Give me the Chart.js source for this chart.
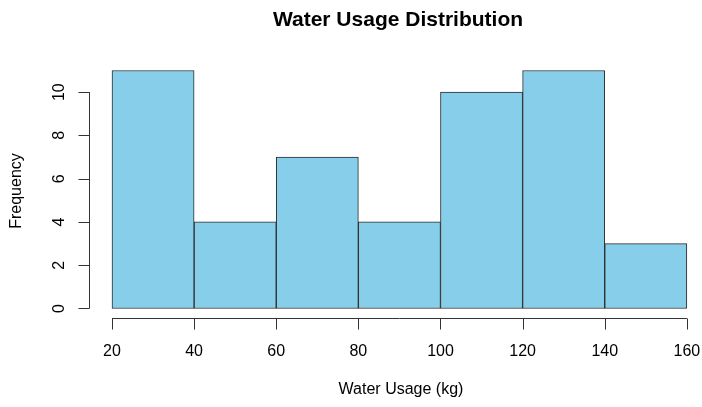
<!DOCTYPE html>
<html>
<head>
<meta charset="utf-8">
<script src="https://cdn.jsdelivr.net/npm/chart.js@4.4.1/dist/chart.umd.min.js"></script>
<style>
  html, body { margin: 0; padding: 0; background: #fff; }
  #wrap { width: 702px; height: 407px; }
</style>
</head>
<body>
<div id="wrap"><canvas id="histChart" width="702" height="407"></canvas></div>
<script>
// histogram bins (kg) and counts
const binStarts = [20, 40, 60, 80, 100, 120, 140];
const binWidth = 20;
const counts = [11, 4, 7, 4, 10, 11, 3];
const xTicks = [20, 40, 60, 80, 100, 120, 140, 160];
const yTicks = [0, 2, 4, 6, 8, 10];

const chartTitle = 'Water Usage Distribution';
const xLabel = 'Water Usage (kg)';
const yLabel = 'Frequency';

const points = binStarts.map((s, i) => ({ x: s + binWidth / 2, y: counts[i] }));

// R style axes, title and labels
const rAxes = {
    id: 'rAxes',
    afterDraw(chart) {
        const c = chart.ctx;
        const xs = chart.scales.x, ys = chart.scales.y;
        const area = chart.chartArea;
        c.save();
        c.strokeStyle = '#333';
        c.lineWidth = 1;
        c.fillStyle = '#000';

        // x axis
        const xy = Math.round(area.bottom) + 0.5;
        c.beginPath();
        c.moveTo(xs.getPixelForValue(xTicks[0]), xy);
        c.lineTo(xs.getPixelForValue(xTicks[xTicks.length - 1]), xy);
        xTicks.forEach(t => {
            const px = Math.round(xs.getPixelForValue(t)) + 0.5;
            c.moveTo(px, xy);
            c.lineTo(px, xy + 11);
        });
        c.stroke();
        c.font = '16px "Liberation Sans", Arial, sans-serif';
        c.textAlign = 'center';
        c.textBaseline = 'middle';
        xTicks.forEach(t => c.fillText(String(t), xs.getPixelForValue(t), 352));

        // y axis
        const yx = Math.round(area.left) + 0.5;
        c.beginPath();
        c.moveTo(yx, ys.getPixelForValue(yTicks[0]));
        c.lineTo(yx, ys.getPixelForValue(yTicks[yTicks.length - 1]));
        yTicks.forEach(t => {
            const py = Math.round(ys.getPixelForValue(t)) + 0.5;
            c.moveTo(yx, py);
            c.lineTo(yx - 11, py);
        });
        c.stroke();
        yTicks.forEach(t => {
            c.save();
            c.translate(60, ys.getPixelForValue(t));
            c.rotate(-Math.PI / 2);
            c.fillText(String(t), 0, 0);
            c.restore();
        });

        // axis titles
        c.fillText(xLabel, 401, 390);
        c.save();
        c.translate(17, 191);
        c.rotate(-Math.PI / 2);
        c.fillText(yLabel, 0, 0);
        c.restore();

        // main title
        c.font = 'bold 21px "Liberation Sans", Arial, sans-serif';
        c.fillText(chartTitle, 398, 20);
        c.restore();
    }
};

const ctx = document.getElementById('histChart').getContext('2d');
const histChart = new Chart(ctx, {
    type: 'bar',
    data: {
        datasets: [{
            label: 'Frequency',
            data: points,
            backgroundColor: '#87CEEB',
            borderColor: '#2b2b2b',
            borderWidth: 1,
            borderSkipped: false,
            barPercentage: 1.0,
            categoryPercentage: 1.0
        }]
    },
    options: {
        responsive: false,
        animation: false,
        layout: {
            padding: { left: 89, right: 2, top: 61, bottom: 89 }
        },
        plugins: {
            legend: { display: false },
            tooltip: { enabled: false }
        },
        scales: {
            x: {
                type: 'linear',
                display: false,
                min: 14.4,
                max: 163.2,
                offset: false
            },
            y: {
                display: false,
                min: -0.44,
                max: 11.44
            }
        }
    },
    plugins: [rAxes]
});
</script>
</body>
</html>
